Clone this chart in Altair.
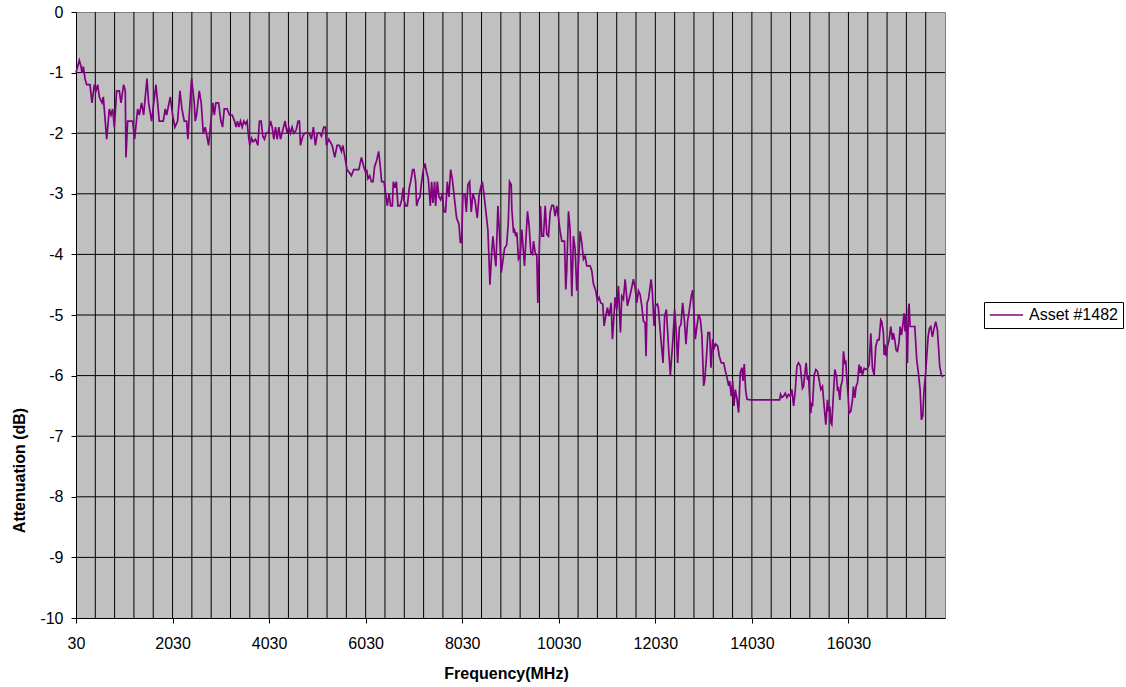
import altair as alt
import pandas as pd

SERIES = "Asset #1482"

# (frequency MHz, attenuation dB), band by band
seg_a = [(30, -1.0), (99, -0.8), (134, -0.9), (154, -1.0), (182, -0.9), (216, -1.1), (251, -1.2), (320, -1.2),
         (361, -1.5), (410, -1.2), (444, -1.3), (479, -1.2), (513, -1.4), (568, -1.5), (596, -1.4), (665, -2.1),
         (720, -1.6), (755, -1.7), (789, -1.6), (824, -1.9), (872, -1.3), (927, -1.3), (962, -1.5), (1017, -1.2),
         (1051, -1.3), (1065, -2.4), (1100, -1.8), (1203, -1.8), (1244, -2.1), (1307, -1.6), (1341, -1.7),
         (1389, -1.5), (1431, -1.7), (1500, -1.1), (1534, -1.5), (1596, -1.8), (1686, -1.2), (1721, -1.5),
         (1755, -1.8), (1838, -1.8), (1879, -1.6), (1907, -1.7), (1983, -1.4), (2031, -1.7), (2079, -1.9),
         (2135, -1.8), (2183, -1.3), (2224, -1.6), (2273, -1.8), (2321, -1.8), (2348, -2.1), (2376, -1.7),
         (2424, -1.1), (2480, -1.5), (2500, -1.8), (2528, -1.7), (2583, -1.3), (2624, -1.5), (2666, -2.0),
         (2707, -1.9), (2776, -2.2), (2825, -1.8), (2866, -1.5), (2894, -1.7), (2928, -1.5), (2983, -1.5),
         (3032, -1.8), (3066, -1.9), (3101, -1.6), (3135, -1.6)]

seg_b = [(3161, -1.6), (3209, -1.7), (3265, -1.7), (3313, -1.8), (3347, -1.9), (3375, -1.8), (3403, -1.9),
         (3437, -1.8), (3472, -1.9), (3506, -1.8), (3541, -1.85), (3575, -1.8), (3596, -2.0), (3630, -2.2),
         (3665, -2.08), (3699, -2.14), (3748, -2.1), (3796, -2.2), (3830, -1.8), (3865, -1.8), (3899, -2.05),
         (3934, -2.1), (3968, -2.0), (4010, -2.0), (4058, -1.8), (4093, -1.9), (4127, -2.1), (4162, -1.9),
         (4196, -2.1), (4231, -1.9), (4265, -2.1), (4313, -1.95), (4361, -1.8), (4403, -2.0), (4437, -1.9),
         (4472, -2.0), (4506, -1.9), (4541, -2.0), (4589, -1.95), (4630, -1.8), (4658, -1.8), (4679, -2.2),
         (4727, -2.05), (4768, -2.0), (4817, -2.0), (4865, -2.0), (4906, -2.1), (4948, -1.9), (4989, -2.2),
         (5030, -2.0), (5079, -2.0), (5114, -2.05), (5162, -1.9), (5197, -1.9), (5217, -2.2), (5266, -2.1),
         (5335, -2.2), (5390, -2.4), (5438, -2.2), (5486, -2.2), (5528, -2.3), (5556, -2.2), (5611, -2.45),
         (5645, -2.6), (5735, -2.7), (5783, -2.6), (5887, -2.6), (5942, -2.4), (5990, -2.55)]

seg_c = [(6030, -2.65), (6051, -2.6), (6078, -2.75), (6113, -2.7), (6147, -2.8), (6182, -2.8), (6216, -2.55),
         (6258, -2.45), (6299, -2.3), (6327, -2.5), (6361, -2.8), (6410, -2.8), (6444, -3.0), (6479, -3.2),
         (6513, -3.0), (6548, -3.2), (6582, -3.2), (6603, -2.8), (6637, -2.9), (6665, -2.8), (6699, -3.2),
         (6741, -3.2), (6775, -3.1), (6810, -2.9), (6824, -3.1), (6858, -3.2), (6893, -3.2), (6934, -2.9),
         (6962, -2.8), (7003, -2.6), (7031, -2.6), (7065, -2.8), (7086, -3.2), (7120, -3.1), (7155, -3.05),
         (7182, -2.85), (7224, -2.6), (7258, -2.5), (7293, -2.65), (7327, -2.75), (7369, -3.2), (7396, -2.8),
         (7424, -3.15), (7458, -2.8), (7479, -3.2), (7514, -2.8), (7548, -3.05), (7583, -3.1), (7617, -3.0),
         (7652, -3.3), (7686, -3.3), (7721, -2.8), (7755, -3.05), (7790, -2.6), (7824, -2.75), (7872, -3.1),
         (7914, -3.4), (7962, -3.5), (7990, -3.8), (8017, -3.8), (8045, -3.0), (8086, -3.0), (8114, -3.3),
         (8148, -2.85), (8183, -2.8), (8217, -3.3), (8252, -3.0), (8293, -3.1), (8342, -3.4), (8376, -3.05),
         (8411, -2.9), (8445, -2.8), (8480, -3.0), (8528, -3.35), (8562, -3.6), (8604, -4.5), (8638, -4.0),
         (8666, -3.7), (8700, -4.0), (8728, -4.2), (8769, -3.2), (8804, -3.7), (8838, -4.3), (8873, -4.1),
         (8907, -3.9), (8949, -3.85), (8983, -3.5), (9011, -2.8), (9045, -2.85)]

seg_d = [(9058, -3.26), (9092, -3.64), (9113, -3.6), (9140, -3.7), (9161, -3.64), (9196, -4.08), (9230, -4.03),
         (9265, -3.59), (9299, -3.97), (9320, -4.19), (9347, -3.8), (9382, -3.29), (9416, -3.53), (9451, -3.97),
         (9485, -4.0), (9506, -3.78), (9541, -3.97), (9575, -4.03), (9596, -4.8), (9623, -4.03), (9651, -3.2),
         (9679, -3.7), (9713, -3.7), (9748, -3.2), (9782, -3.67), (9817, -3.7), (9851, -3.31), (9886, -3.19),
         (9920, -3.19), (9955, -3.37), (9989, -3.2), (10024, -3.4), (10058, -3.62), (10093, -3.78),
         (10148, -3.78), (10175, -4.58), (10196, -4.25), (10231, -3.29), (10265, -3.59), (10300, -4.69),
         (10334, -3.7), (10369, -3.92), (10403, -4.6), (10438, -4.14), (10472, -3.62), (10507, -3.81),
         (10541, -4.08), (10576, -4.03), (10610, -4.19), (10679, -4.19), (10714, -4.27), (10748, -4.49),
         (10796, -4.6), (10831, -4.77), (10865, -4.71), (10900, -4.8), (10941, -4.82), (10969, -5.18),
         (11003, -5.02), (11038, -4.88), (11072, -5.02), (11114, -4.8), (11141, -5.4), (11169, -5.07),
         (11197, -4.71), (11231, -4.91), (11266, -4.52), (11286, -4.91), (11307, -5.29), (11335, -4.69),
         (11369, -4.74), (11404, -4.41), (11424, -4.58), (11452, -4.85), (11486, -4.74), (11528, -4.6),
         (11576, -4.41), (11611, -4.55), (11645, -4.8), (11680, -4.6), (11714, -4.66), (11749, -4.85),
         (11783, -5.1), (11818, -5.13), (11838, -5.68), (11859, -4.8), (11887, -4.74), (11942, -4.41),
         (11969, -4.63), (12004, -5.18), (12031, -4.85), (12073, -4.82)]

seg_e = [(12092, -4.88), (12134, -5.29), (12189, -5.79), (12223, -5.02), (12258, -4.91), (12306, -5.57),
         (12341, -5.99), (12389, -5.46), (12430, -4.91), (12465, -5.29), (12492, -5.79), (12527, -5.21),
         (12561, -5.15), (12596, -4.8), (12630, -5.07), (12665, -5.48), (12699, -5.1), (12741, -4.88),
         (12775, -4.69), (12803, -4.59), (12824, -4.88), (12858, -5.4), (12893, -5.18), (12927, -4.99),
         (12962, -5.07), (12996, -5.35), (13031, -6.17), (13051, -6.09), (13086, -5.73), (13120, -5.29),
         (13155, -5.29), (13182, -5.87), (13217, -5.4), (13251, -5.54), (13279, -5.48), (13320, -5.51),
         (13355, -5.68), (13396, -5.79), (13445, -5.79), (13479, -5.92), (13514, -6.03), (13548, -6.17),
         (13569, -6.09), (13603, -6.34), (13631, -6.09), (13658, -6.5), (13686, -6.23), (13721, -6.39),
         (13755, -6.61), (13790, -5.95), (13824, -5.87), (13845, -6.09), (13872, -5.81), (13900, -6.23),
         (13928, -6.39), (13997, -6.4), (14604, -6.4), (14624, -6.31), (14652, -6.36), (14687, -6.34),
         (14721, -6.29), (14756, -6.36), (14790, -6.31), (14825, -6.34), (14859, -6.23), (14894, -6.5),
         (14928, -6.25), (14963, -5.84), (14997, -5.79), (15032, -5.84)]

seg_f = [(15078, -6.21), (15099, -6.18), (15133, -5.93), (15154, -5.79), (15182, -6.07), (15202, -5.99),
         (15230, -6.4), (15251, -6.62), (15265, -6.45), (15285, -6.51), (15320, -5.99), (15354, -5.9),
         (15389, -5.93), (15423, -6.07), (15458, -6.23), (15492, -6.18), (15527, -6.51), (15561, -6.81),
         (15596, -6.4), (15616, -6.59), (15644, -6.51), (15665, -6.78), (15685, -6.81), (15720, -6.29),
         (15748, -5.9), (15782, -6.01), (15803, -6.23), (15823, -6.21), (15851, -6.4), (15872, -6.18),
         (15906, -6.07), (15927, -5.6), (15955, -5.79), (15975, -5.77), (15996, -6.04), (16024, -6.34),
         (16044, -6.62), (16079, -6.59), (16113, -6.4), (16134, -6.18), (16162, -6.37), (16189, -6.18),
         (16217, -6.12), (16251, -5.82), (16272, -5.96), (16286, -5.85), (16320, -5.99), (16355, -5.88),
         (16396, -5.9), (16424, -5.88), (16458, -5.82), (16493, -5.3), (16527, -5.88), (16562, -5.99),
         (16596, -5.52), (16631, -5.41), (16665, -5.41), (16700, -5.08), (16720, -5.11), (16755, -5.3),
         (16769, -5.66), (16789, -5.49), (16810, -5.68), (16838, -5.52), (16872, -5.41), (16907, -5.19),
         (16941, -5.41), (16962, -5.3), (16990, -5.41), (17017, -5.58), (17045, -5.6), (17079, -5.44),
         (17100, -5.19), (17128, -5.33), (17148, -5.22), (17183, -4.97), (17203, -5.27), (17224, -5.0),
         (17252, -5.79), (17272, -4.92), (17286, -4.81), (17307, -5.19), (17341, -5.19), (17404, -5.19),
         (17445, -5.74), (17479, -5.96), (17514, -6.23), (17542, -6.73), (17569, -6.67), (17597, -6.23),
         (17624, -6.01), (17652, -5.68), (17680, -5.36), (17707, -5.22), (17735, -5.19), (17769, -5.36),
         (17804, -5.22), (17838, -5.11), (17873, -5.25), (17893, -5.49), (17921, -5.85), (17955, -5.99),
         (17990, -6.02)]

x_tick_labels = [30, 2030, 4030, 6030, 8030, 10030, 12030, 14030, 16030]
y_tick_labels = [-10, -9, -8, -7, -6, -5, -4, -3, -2, -1, 0]
x_domain = [30, 18030]
y_domain = [-10, 0]
x_grid_step = 400

rows = [{"freq": f, "atten": a, "series": SERIES}
        for seg in (seg_a, seg_b, seg_c, seg_d, seg_e, seg_f) for f, a in seg]
df = pd.DataFrame(rows)

vgrid = pd.DataFrame({"g": list(range(x_domain[0] + x_grid_step, x_domain[1], x_grid_step))})
hgrid = pd.DataFrame({"h": y_tick_labels[1:-1]})

W, H = 869, 606
FONT = "Liberation Sans"
FS = 16

x_scale = alt.Scale(domain=x_domain, nice=False, zero=False)
y_scale = alt.Scale(domain=y_domain, nice=False, zero=False)

x_axis = alt.Axis(values=x_tick_labels, title="Frequency(MHz)", grid=False,
                  labelExpr="'' + datum.value",
                  labelFlush=False, labelPadding=12, tickSize=5,
                  titleX=430, titleY=60, titleBaseline="alphabetic", titleAlign="center")
y_axis = alt.Axis(values=y_tick_labels, title="Attenuation (dB)", grid=False,
                  labelExpr="'' + datum.value",
                  labelFlush=False, labelPadding=8, tickSize=5,
                  titleX=-52, titleY=458, titleAngle=270, titleBaseline="alphabetic",
                  titleAlign="center")

vrules = alt.Chart(vgrid).mark_rule(color="black", strokeWidth=1).encode(
    x=alt.X("g:Q", scale=x_scale, axis=x_axis),
    y=alt.value(0),
    y2=alt.value(H),
)
hrules = alt.Chart(hgrid).mark_rule(color="black", strokeWidth=1).encode(
    y=alt.Y("h:Q", scale=y_scale, axis=y_axis),
    x=alt.value(0),
    x2=alt.value(W),
)

line = alt.Chart(df).mark_line(strokeWidth=1.7).encode(
    x=alt.X("freq:Q", scale=x_scale, axis=x_axis),
    y=alt.Y("atten:Q", scale=y_scale, axis=y_axis),
    color=alt.Color("series:N", scale=alt.Scale(range=["#800080"]),
                    legend=alt.Legend(title=None, orient="none", legendX=908, legendY=290,
                                      symbolType="stroke", symbolSize=1100, symbolStrokeWidth=1.5,
                                      clipHeight=16,
                                      labelFontSize=FS, labelFont=FONT, labelColor="black",
                                      labelOffset=5, strokeColor="black", fillColor="white",
                                      padding=5)),
)

chart = alt.layer(vrules, hrules, line).properties(
    width=W, height=H,
    autosize=alt.AutoSizeParams(type="none"),
    padding={"left": 76, "top": 12, "right": 181, "bottom": 69},
    background="white",
).configure_view(
    fill="#C0C0C0", stroke="#808080", strokeWidth=1,
).configure_axis(
    domainColor="black", tickColor="black", labelColor="black", titleColor="black",
    labelFont=FONT, titleFont=FONT, labelFontSize=FS, titleFontSize=FS, titleFontWeight="bold",
)

chart.save("out.html", embed_options={"renderer": "svg", "actions": False})
